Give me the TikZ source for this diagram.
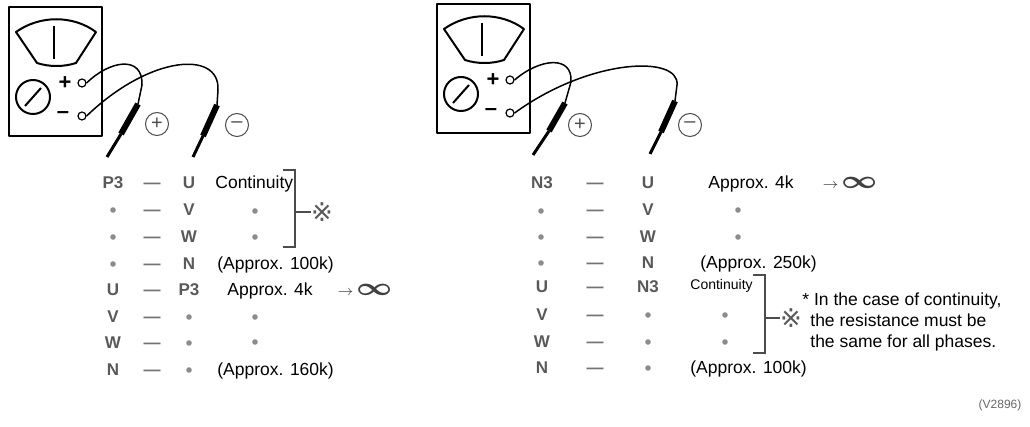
\documentclass[tikz,border=0pt]{standalone}
\usepackage{amsmath,amssymb}
\usepackage{fontspec}
\setmainfont{Liberation Sans}
\newfontfamily\refmark{DejaVu Sans}
\usetikzlibrary{positioning}

\begin{document}
\begin{tikzpicture}[x=0.5pt, y=-0.5pt,
    meterline/.style={line width=1pt, line join=round},
    term/.style={draw, circle, inner sep=0pt, minimum size=4pt, line width=0.6pt},
    lead/.style={line width=0.75pt},
    probehandle/.style={line width=3pt},
    probetip/.style={line width=1.5pt},
    polsign/.style={draw=black!70, circle, inner sep=0pt, minimum size=11.5pt, line width=0.5pt, text=black!70, font=\fontsize{10}{10}\selectfont},
    lbl/.style={anchor=base, text=black!65, font=\bfseries\fontsize{8.5}{10}\selectfont},
    bar/.style={anchor=base, text=black!55, font=\bfseries\fontsize{8.5}{10}\selectfont},
    ditto/.style={circle, fill=black!45, inner sep=0pt, minimum size=2.8pt},
    note/.style={anchor=base west, inner sep=0pt, font=\fontsize{8.75}{10.5}\selectfont},
    smallnote/.style={anchor=base west, inner sep=0pt, font=\fontsize{7}{8}\selectfont},
    infty/.style={text=black!75, font=\fontsize{7}{7}\selectfont},
    brk/.style={line width=0.9pt, draw=black!70},
    refsym/.style={text=black!65, inner sep=0pt, font=\refmark\fontsize{13}{13}\selectfont}]
    \useasboundingbox (0,0) rectangle (1030,427);

    % Testers
    \foreach \m/\ox/\oy in {l/9/7, r/437/4} {
      \begin{scope}[shift={(\ox,\oy)}]
        \draw[meterline] (0,0) rectangle (93,129);
        \draw[meterline] (7,25) .. controls (31,8) and (64,8) .. (87,25) -- (67,56)
          .. controls (55,60) and (40,60) .. (28,56) -- cycle;
        \draw[meterline] (45,19) -- (45,52);
        \draw[meterline] (24,90) circle (8.5pt);
        \draw[meterline] (16,99) -- (32,81);
        \node[font=\bfseries\fontsize{11}{11}\selectfont] (\m plustxt) at (56,76) {+};
        \node[font=\bfseries\fontsize{11}{11}\selectfont] (\m minustxt) at (54,108) {\textendash};
        \node[term] (\m plus) at (73,76) {};
        \node[term] (\m minus) at (73,109) {};
      \end{scope}
    }

    % Probes
    \coordinate (lph) at (138,104);
    \coordinate (lpm) at (121,134);
    \coordinate (lpt) at (107,157);
    \coordinate (lmh) at (217,105);
    \coordinate (lmm) at (203,136);
    \coordinate (lmt) at (193,157);
    \coordinate (rph) at (565,103);
    \coordinate (rpm) at (549,131);
    \coordinate (rpt) at (533,155);
    \coordinate (rmh) at (675,101);
    \coordinate (rmm) at (661,132);
    \coordinate (rmt) at (650,154);

    % Leads
    \draw[lead] (lplus.east) .. controls (110,60) and (143,55) .. (142,85) -- (lph);
    \draw[lead] (lminus.east) .. controls (150,55) and (220,50) .. (218,90) -- (lmh);
    \draw[lead] (rplus.east) .. controls (540,58) and (573,55) .. (571,82) -- (rph);
    \draw[lead] (rminus.east) .. controls (590,58) and (680,55) .. (677,85) -- (rmh);
    \foreach \p in {lp, lm, rp, rm} {
      \draw[probehandle] (\p h) -- (\p m);
      \draw[probetip] (\p m) -- (\p t);
    }

    % Polarity marks
    \node[polsign] (lpos) at (157,124) {+};
    \node[polsign] (lneg) at (237,125) {\textendash};
    \node[polsign] (rpos) at (580,125) {+};
    \node[polsign] (rneg) at (690,125) {\textendash};

    % Left table
    \node[lbl] (la1) at (113,189) {P3};
    \node[bar] (lb1) at (152,189) {\textemdash};
    \node[lbl] (lc1) at (189,189) {U};
    \node[note] (ld1) at (215,189) {Continuity};
    \node[ditto] (la2) at (113,210) {};
    \node[bar] (lb2) at (152,216) {\textemdash};
    \node[lbl] (lc2) at (189,216) {V};
    \node[ditto] (ld2) at (255,211) {};
    \node[ditto] (la3) at (113,237) {};
    \node[bar] (lb3) at (152,243) {\textemdash};
    \node[lbl] (lc3) at (189,243) {W};
    \node[ditto] (ld3) at (255,237) {};
    \node[ditto] (la4) at (113,264) {};
    \node[bar] (lb4) at (152,270) {\textemdash};
    \node[lbl] (lc4) at (189,270) {N};
    \node[note] (ld4) at (217,270) {(Approx. 100k)};
    \node[lbl] (la5) at (113,296) {U};
    \node[bar] (lb5) at (152,296) {\textemdash};
    \node[lbl] (lc5) at (189,296) {P3};
    \node[note] (ld5) at (227,296) {Approx. 4k};
    \node[infty] (linf) at (365,290) {$\to$\,\scalebox{2}[1.8]{$\boldsymbol{\infty}$}};
    \node[lbl] (la6) at (113,323) {V};
    \node[bar] (lb6) at (152,323) {\textemdash};
    \node[ditto] (lc6) at (189,317) {};
    \node[ditto] (ld6) at (255,317) {};
    \node[lbl] (la7) at (113,349) {W};
    \node[bar] (lb7) at (152,349) {\textemdash};
    \node[ditto] (lc7) at (189,343) {};
    \node[ditto] (ld7) at (255,342) {};
    \node[lbl] (la8) at (113,376) {N};
    \node[bar] (lb8) at (152,376) {\textemdash};
    \node[ditto] (lc8) at (189,370) {};
    \node[note] (ld8) at (217,376) {(Approx. 160k)};

    % Right table
    \node[lbl] (ra1) at (542,189) {N3};
    \node[bar] (rb1) at (595,189) {\textemdash};
    \node[lbl] (rc1) at (648,189) {U};
    \node[note] (rd1) at (708,189) {Approx. 4k};
    \node[infty] (rinf) at (850,183) {$\to$\,\scalebox{2}[1.8]{$\boldsymbol{\infty}$}};
    \node[ditto] (ra2) at (541,211) {};
    \node[bar] (rb2) at (595,216) {\textemdash};
    \node[lbl] (rc2) at (648,216) {V};
    \node[ditto] (rd2) at (738,210) {};
    \node[ditto] (ra3) at (541,237) {};
    \node[bar] (rb3) at (595,243) {\textemdash};
    \node[lbl] (rc3) at (648,243) {W};
    \node[ditto] (rd3) at (738,237) {};
    \node[ditto] (ra4) at (541,263) {};
    \node[bar] (rb4) at (595,269) {\textemdash};
    \node[lbl] (rc4) at (648,269) {N};
    \node[note] (rd4) at (700,269) {(Approx. 250k)};
    \node[lbl] (ra5) at (542,293) {U};
    \node[bar] (rb5) at (595,293) {\textemdash};
    \node[lbl] (rc5) at (648,293) {N3};
    \node[smallnote] (rd5) at (690,290) {Continuity};
    \node[lbl] (ra6) at (542,321) {V};
    \node[bar] (rb6) at (595,321) {\textemdash};
    \node[ditto] (rc6) at (648,315) {};
    \node[ditto] (rd6) at (725,315) {};
    \node[lbl] (ra7) at (542,348) {W};
    \node[bar] (rb7) at (595,348) {\textemdash};
    \node[ditto] (rc7) at (648,342) {};
    \node[ditto] (rd7) at (725,342) {};
    \node[lbl] (ra8) at (542,374) {N};
    \node[bar] (rb8) at (595,374) {\textemdash};
    \node[ditto] (rc8) at (648,368) {};
    \node[note] (rd8) at (690,374) {(Approx. 100k)};

    % Brackets and reference marks
    \coordinate (lbrk) at (295,212);
    \coordinate (rbrk) at (765,318);
    \node[refsym] (lref) at (322,212) {※};
    \node[refsym] (rref) at (791,318) {※};
    \draw[brk] (283,170) -- (295,170) -- (295,247) -- (283,247);
    \draw[brk] (lbrk) -- (lref.west);
    \draw[brk] (753,275) -- (765,275) -- (765,353) -- (753,353);
    \draw[brk] (rbrk) -- (rref.west);
    \node[anchor=north west, inner sep=0pt, align=left, font=\fontsize{8.75}{10.5}\selectfont] (fnote) at (802,292)
      {* In the case of continuity,\\\hspace{4pt}the resistance must be\\\hspace{4pt}the same for all phases.};

    \node[text=black!60, font=\fontsize{6}{6}\selectfont] (figno) at (1000,405) {(V2896)};
\end{tikzpicture}
\end{document}
